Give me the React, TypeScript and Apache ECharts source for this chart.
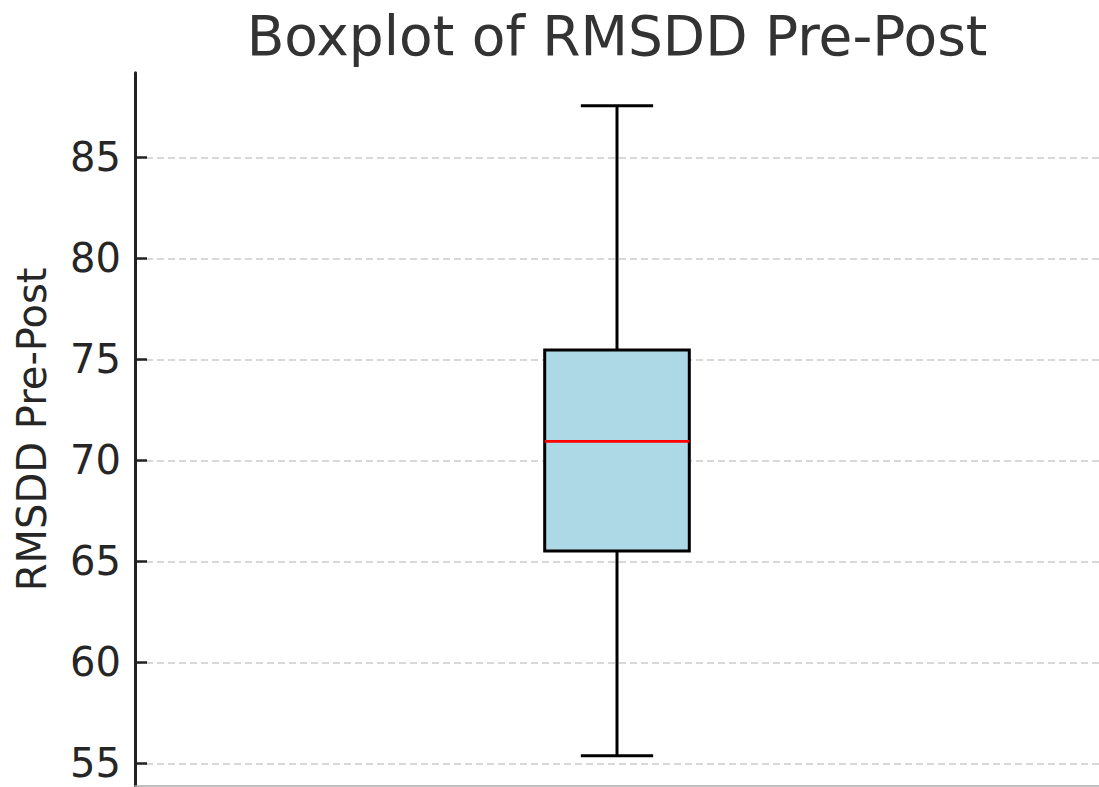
import React, { useEffect, useRef } from "react";
import * as echarts from "echarts";

const CATEGORIES = ["RMSDD Pre-Post"];
// [min whisker, Q1, median, Q3, max whisker]
const BOX_STATS = [[55.38, 65.51, 70.94, 75.46, 87.55]];
const Y_TICKS = [55, 60, 65, 70, 75, 80, 85];
const Y_MIN = 53.88;
const Y_MAX = 89.19;
const TITLE = "Boxplot of RMSDD Pre-Post";
const Y_NAME = "RMSDD Pre-Post";

const FONT = "DejaVu Sans";

export default function App() {
  const ref = useRef<HTMLDivElement | null>(null);

  useEffect(() => {
    if (!ref.current) return;
    const chart = echarts.init(ref.current, null, { renderer: "svg" });
    const grid = { left: 135, right: 0, top: 72.7, bottom: 1 };
    chart.setOption({
      animation: false,
      backgroundColor: "#ffffff",
      grid,
      graphic: [
        {
          type: "text",
          x: 617,
          y: 35.5,
          style: {
            text: TITLE,
            fill: "#333333",
            font: `55px "${FONT}"`,
            textAlign: "center",
            textVerticalAlign: "middle",
          },
        },
      ],
      xAxis: {
        type: "category",
        data: CATEGORIES,
        boundaryGap: true,
        axisLabel: { show: false },
        axisTick: { show: false },
        splitLine: { show: false },
        axisLine: { show: true, lineStyle: { color: "#aaaaaa", width: 1.5 } },
      },
      yAxis: {
        type: "value",
        min: Y_MIN,
        max: Y_MAX,
        splitNumber: 7,
        name: Y_NAME,
        nameLocation: "middle",
        nameRotate: 90,
        nameGap: 83,
        nameTextStyle: { color: "#262626", fontSize: 40, fontFamily: FONT },
        axisLine: { show: true, lineStyle: { color: "#222222", width: 3 } },
        axisTick: {
          show: true,
          inside: true,
          length: 12,
          lineStyle: { color: "#222222", width: 2.5 },
          customValues: Y_TICKS,
        },
        axisLabel: {
          show: true,
          color: "#262626",
          fontSize: 40,
          fontFamily: FONT,
          margin: 14,
          customValues: Y_TICKS,
        },
        splitLine: {
          show: true,
          lineStyle: { color: "#cccccc", width: 1.5, type: [7, 4] },
        },
      },
      series: [
        {
          type: "custom",
          data: BOX_STATS.map((s, i) => [i, ...s]),
          encode: { x: 0, y: [1, 2, 3, 4, 5] },
          renderItem: (params: any, api: any) => {
            const idx = api.value(0);
            const vals = [1, 2, 3, 4, 5].map((d) => api.value(d));
            const pts = vals.map((v) => api.coord([idx, v]));
            const cx = pts[0][0];
            const band = api.size([1, 0])[0];
            const hw = band * 0.075;
            const cw = band * 0.0375;
            const [yMin, yQ1, yMed, yQ3, yMax] = pts.map((p: number[]) => p[1]);
            const black = { stroke: "#000000", lineWidth: 3 };
            return {
              type: "group",
              children: [
                {
                  type: "rect",
                  shape: { x: cx - hw, y: yQ3, width: 2 * hw, height: yQ1 - yQ3 },
                  style: { fill: "#add8e6", stroke: "#000000", lineWidth: 3 },
                },
                { type: "line", shape: { x1: cx, y1: yQ3, x2: cx, y2: yMax }, style: black },
                { type: "line", shape: { x1: cx, y1: yQ1, x2: cx, y2: yMin }, style: black },
                { type: "line", shape: { x1: cx - cw, y1: yMax, x2: cx + cw, y2: yMax }, style: black },
                { type: "line", shape: { x1: cx - cw, y1: yMin, x2: cx + cw, y2: yMin }, style: black },
                {
                  type: "line",
                  shape: { x1: cx - hw, y1: yMed, x2: cx + hw, y2: yMed },
                  style: { stroke: "#ff0000", lineWidth: 2.8 },
                },
              ],
            };
          },
        },
      ],
    });
    return () => chart.dispose();
  }, []);

  return (
    <div
      ref={ref}
      style={{ position: "fixed", left: 0, top: 0, width: 1099, height: 787, background: "#fff" }}
    />
  );
}
